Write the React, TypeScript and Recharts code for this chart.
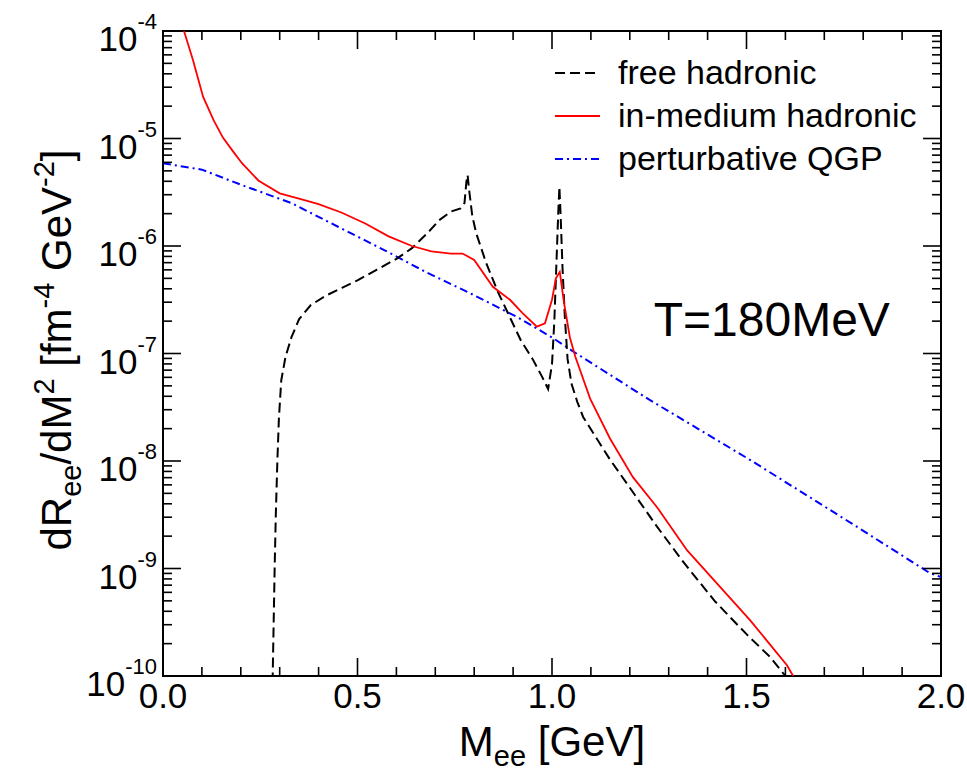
import React from 'react';
import { LineChart, Line, XAxis, YAxis, ReferenceArea, ReferenceDot, Legend } from 'recharts';

// ---------- data (M_ee in GeV, dR/dM^2 in fm^-4 GeV^-2) ----------
const freeM = [0.281, 0.284, 0.287, 0.29, 0.294, 0.298, 0.304, 0.315, 0.33, 0.35, 0.38, 0.42, 0.46, 0.5, 0.55, 0.6, 0.64, 0.68, 0.71, 0.74, 0.765, 0.775, 0.78, 0.783, 0.787, 0.795, 0.805, 0.83, 0.86, 0.89, 0.92, 0.95, 0.975, 0.99, 1.0, 1.006, 1.012, 1.016, 1.019, 1.022, 1.027, 1.033, 1.04, 1.05, 1.065, 1.08, 1.106, 1.15, 1.21, 1.27, 1.34, 1.42, 1.5, 1.56, 1.6, 1.62];
const freeR = [6.31e-11, 2.51e-10, 1.0e-9, 3.16e-9, 1.0e-8, 2.51e-8, 5.62e-8, 9.33e-8, 1.41e-7, 2.09e-7, 2.82e-7, 3.47e-7, 4.07e-7, 4.79e-7, 6.03e-7, 7.59e-7, 9.55e-7, 1.32e-6, 1.74e-6, 2.09e-6, 2.24e-6, 2.51e-6, 3.98e-6, 4.57e-6, 3.31e-6, 1.91e-6, 1.32e-6, 7.08e-7, 3.8e-7, 2.24e-7, 1.32e-7, 8.91e-8, 6.03e-8, 4.68e-8, 7.94e-8, 2.0e-7, 7.94e-7, 2.0e-6, 3.55e-6, 2.0e-6, 6.31e-7, 2.19e-7, 8.91e-8, 5.25e-8, 3.55e-8, 2.57e-8, 1.82e-8, 1.02e-8, 5.01e-9, 2.45e-9, 1.12e-9, 4.9e-10, 2.45e-10, 1.51e-10, 1.0e-10, 7.94e-11];

const medM = [0.02, 0.04, 0.054, 0.077, 0.103, 0.13, 0.154, 0.18, 0.203, 0.245, 0.3, 0.352, 0.4, 0.46, 0.52, 0.58, 0.64, 0.69, 0.74, 0.77, 0.8, 0.848, 0.892, 0.923, 0.961, 0.982, 1.0, 1.01, 1.02, 1.031, 1.046, 1.06, 1.098, 1.149, 1.208, 1.27, 1.347, 1.432, 1.509, 1.604, 1.62, 1.64];
const medR = [2.82e-4, 1.51e-4, 1.0e-4, 5.37e-5, 2.45e-5, 1.48e-5, 1.02e-5, 7.59e-6, 5.89e-6, 4.07e-6, 3.09e-6, 2.75e-6, 2.45e-6, 2.04e-6, 1.62e-6, 1.23e-6, 1.0e-6, 8.91e-7, 8.51e-7, 8.51e-7, 7.41e-7, 4.17e-7, 3.16e-7, 2.4e-7, 1.78e-7, 1.91e-7, 3.16e-7, 5.01e-7, 5.75e-7, 2.95e-7, 1.41e-7, 9.33e-8, 3.8e-8, 1.62e-8, 7.08e-9, 3.72e-9, 1.48e-9, 6.76e-10, 3.31e-10, 1.26e-10, 1.0e-10, 7.94e-11];

const qgpM = [0.0, 0.1, 0.2, 0.33, 0.45, 0.57, 0.68, 0.79, 0.91, 1.0, 1.05, 1.25, 1.51, 1.77, 1.97, 2.0];
const qgpR = [5.89e-6, 5.13e-6, 3.72e-6, 2.51e-6, 1.51e-6, 9.12e-7, 5.62e-7, 3.63e-7, 2.19e-7, 1.41e-7, 1.07e-7, 3.72e-8, 1.02e-8, 2.63e-9, 9.12e-10, 8.32e-10];

const seriesNames = ['free hadronic', 'in-medium hadronic', 'perturbative QGP'];
const seriesColors = ['#000000', '#ff0000', '#0000ff'];
const seriesDash = ['10 5', undefined, '8 4 2 4'];

const xTicks = [0, 0.1, 0.2, 0.3, 0.4, 0.5, 0.6, 0.7, 0.8, 0.9, 1.0, 1.1, 1.2, 1.3, 1.4, 1.5, 1.6, 1.7, 1.8, 1.9, 2.0];
const yDecades = [-10, -9, -8, -7, -6, -5, -4];
const yMantissas = [1, 2, 3, 4, 5, 6, 7, 8, 9];

const tempLabel = 'T=180MeV';

// ---------- layout ----------
const W = 967;
const H = 772;
const M_TOP = 31;
const M_RIGHT = 26;
const Y_W = 140;
const M_LEFT = 23;
const X_H = 70;
const M_BOTTOM = 26;
const PLOT_W = W - M_LEFT - Y_W - M_RIGHT;
const PLOT_H = H - M_TOP - M_BOTTOM - X_H;
const FONT = '"Liberation Sans", Arial, Helvetica, sans-serif';

const yTicks: number[] = [];
yDecades.forEach((d, i) => {
  if (i === yDecades.length - 1) {
    yTicks.push(Math.pow(10, d));
  } else {
    yMantissas.forEach((m) => yTicks.push(m * Math.pow(10, d)));
  }
});

const zip = (ms: number[], rs: number[]) => ms.map((m, i) => ({ m, r: rs[i] }));
const freeData = zip(freeM, freeR);
const medData = zip(medM, medR);
const qgpData = zip(qgpM, qgpR);

const XTick = (props: any) => {
  const { x, y, payload } = props;
  const v = payload.value as number;
  const major = Math.abs(v * 2 - Math.round(v * 2)) < 1e-6;
  const len = major ? 18 : 9;
  return (
    <g>
      <line x1={x} x2={x} y1={y} y2={y - len} stroke="#000" strokeWidth={1.6} />
      <line x1={x} x2={x} y1={y - PLOT_H} y2={y - PLOT_H + len} stroke="#000" strokeWidth={1.6} />
      {major && (
        <text x={x} y={y + 32} textAnchor="middle" fontSize={35} fill="#000" fontFamily={FONT}>
          {v.toFixed(1)}
        </text>
      )}
    </g>
  );
};

const YTick = (props: any) => {
  const { x, y, payload } = props;
  const v = payload.value as number;
  const lg = Math.log10(v);
  const major = Math.abs(lg - Math.round(lg)) < 1e-6;
  const len = major ? 18 : 9;
  return (
    <g>
      <line x1={x} x2={x + len} y1={y} y2={y} stroke="#000" strokeWidth={1.6} />
      <line x1={x + PLOT_W} x2={x + PLOT_W - len} y1={y} y2={y} stroke="#000" strokeWidth={1.6} />
      {major && (
        <text x={x - 6} y={y + 20} textAnchor="end" fontSize={35} fill="#000" fontFamily={FONT}>
          10
          <tspan fontSize={22} dy={-22}>{String(Math.round(lg))}</tspan>
        </text>
      )}
    </g>
  );
};

const YTitle = () => {
  const cx = 71;
  const cy = 350;
  return (
    <text
      x={cx}
      y={cy}
      transform={`rotate(-90 ${cx} ${cy})`}
      textAnchor="middle"
      fontSize={42}
      fill="#000"
      fontFamily={FONT}
    >
      dR
      <tspan fontSize={29} dy={10}>ee</tspan>
      <tspan dy={-10}>/dM</tspan>
      <tspan fontSize={29} dy={-17}>2</tspan>
      <tspan dy={17}> [fm</tspan>
      <tspan fontSize={29} dy={-17}>-4</tspan>
      <tspan dy={17}> GeV</tspan>
      <tspan fontSize={29} dy={-17}>-2</tspan>
      <tspan dy={17}>]</tspan>
    </text>
  );
};

const XTitle = () => {
  const cx = M_LEFT + Y_W + PLOT_W / 2;
  const by = M_TOP + PLOT_H + 80;
  return (
    <text x={cx} y={by} textAnchor="middle" fontSize={42} fill="#000" fontFamily={FONT}>
      M
      <tspan fontSize={29} dy={10}>ee</tspan>
      <tspan dy={-10}> [GeV]</tspan>
    </text>
  );
};

const LegendBox = () => (
  <div style={{ fontFamily: FONT, fontSize: 34, color: '#000' }}>
    {seriesNames.map((name, i) => (
      <div key={name} style={{ display: 'flex', alignItems: 'center', height: 43, whiteSpace: 'nowrap' }}>
        <svg width={63} height={10} style={{ flex: 'none' }}>
          <line
            x1={0}
            x2={45}
            y1={5}
            y2={5}
            stroke={seriesColors[i]}
            strokeWidth={2}
            strokeDasharray={seriesDash[i]}
          />
        </svg>
        <span>{name}</span>
      </div>
    ))}
  </div>
);

export default function App() {
  return (
    <div style={{ position: 'absolute', left: 0, top: 0, width: W, height: H, background: '#fff', fontFamily: FONT }}>
      <LineChart
        width={W}
        height={H}
        margin={{ top: M_TOP, right: M_RIGHT, bottom: M_BOTTOM, left: M_LEFT }}
      >
        <XAxis
          dataKey="m"
          type="number"
          domain={[0, 2]}
          allowDataOverflow
          ticks={xTicks}
          interval={0}
          tickSize={0}
          tickMargin={0}
          axisLine={false}
          tickLine={false}
          height={X_H}
          tick={(p: any) => <XTick {...p} />}
          label={(p: any) => <XTitle />}
        />
        <YAxis
          type="number"
          scale="log"
          domain={[1e-10, 1e-4]}
          allowDataOverflow
          ticks={yTicks}
          interval={0}
          tickSize={0}
          tickMargin={0}
          axisLine={false}
          tickLine={false}
          width={Y_W}
          tick={(p: any) => <YTick {...p} />}
          label={(p: any) => <YTitle />}
        />
        <Line
          data={qgpData}
          dataKey="r"
          name={seriesNames[2]}
          type="linear"
          stroke={seriesColors[2]}
          strokeWidth={2}
          strokeDasharray={seriesDash[2]}
          dot={false}
          activeDot={false}
          isAnimationActive={false}
        />
        <Line
          data={freeData}
          dataKey="r"
          name={seriesNames[0]}
          type="linear"
          stroke={seriesColors[0]}
          strokeWidth={2}
          strokeDasharray={seriesDash[0]}
          dot={false}
          activeDot={false}
          isAnimationActive={false}
        />
        <Line
          data={medData}
          dataKey="r"
          name={seriesNames[1]}
          type="linear"
          stroke={seriesColors[1]}
          strokeWidth={1.8}
          dot={false}
          activeDot={false}
          isAnimationActive={false}
        />
        <ReferenceArea
          x1={0}
          x2={2}
          y1={1e-10}
          y2={1e-4}
          fill="none"
          fillOpacity={0}
          stroke="#000"
          strokeWidth={2}
          ifOverflow="visible"
        />
        <ReferenceDot
          x={1.565}
          y={2.09e-7}
          r={0}
          fill="none"
          stroke="none"
          label={{ value: tempLabel, position: 'center', fontSize: 48, fill: '#000', fontFamily: FONT }}
        />
        <Legend
          layout="vertical"
          align="center"
          verticalAlign="middle"
          wrapperStyle={{ left: 555, top: 51, width: 380, height: 130 }}
          content={() => <LegendBox />}
        />
      </LineChart>
    </div>
  );
}
